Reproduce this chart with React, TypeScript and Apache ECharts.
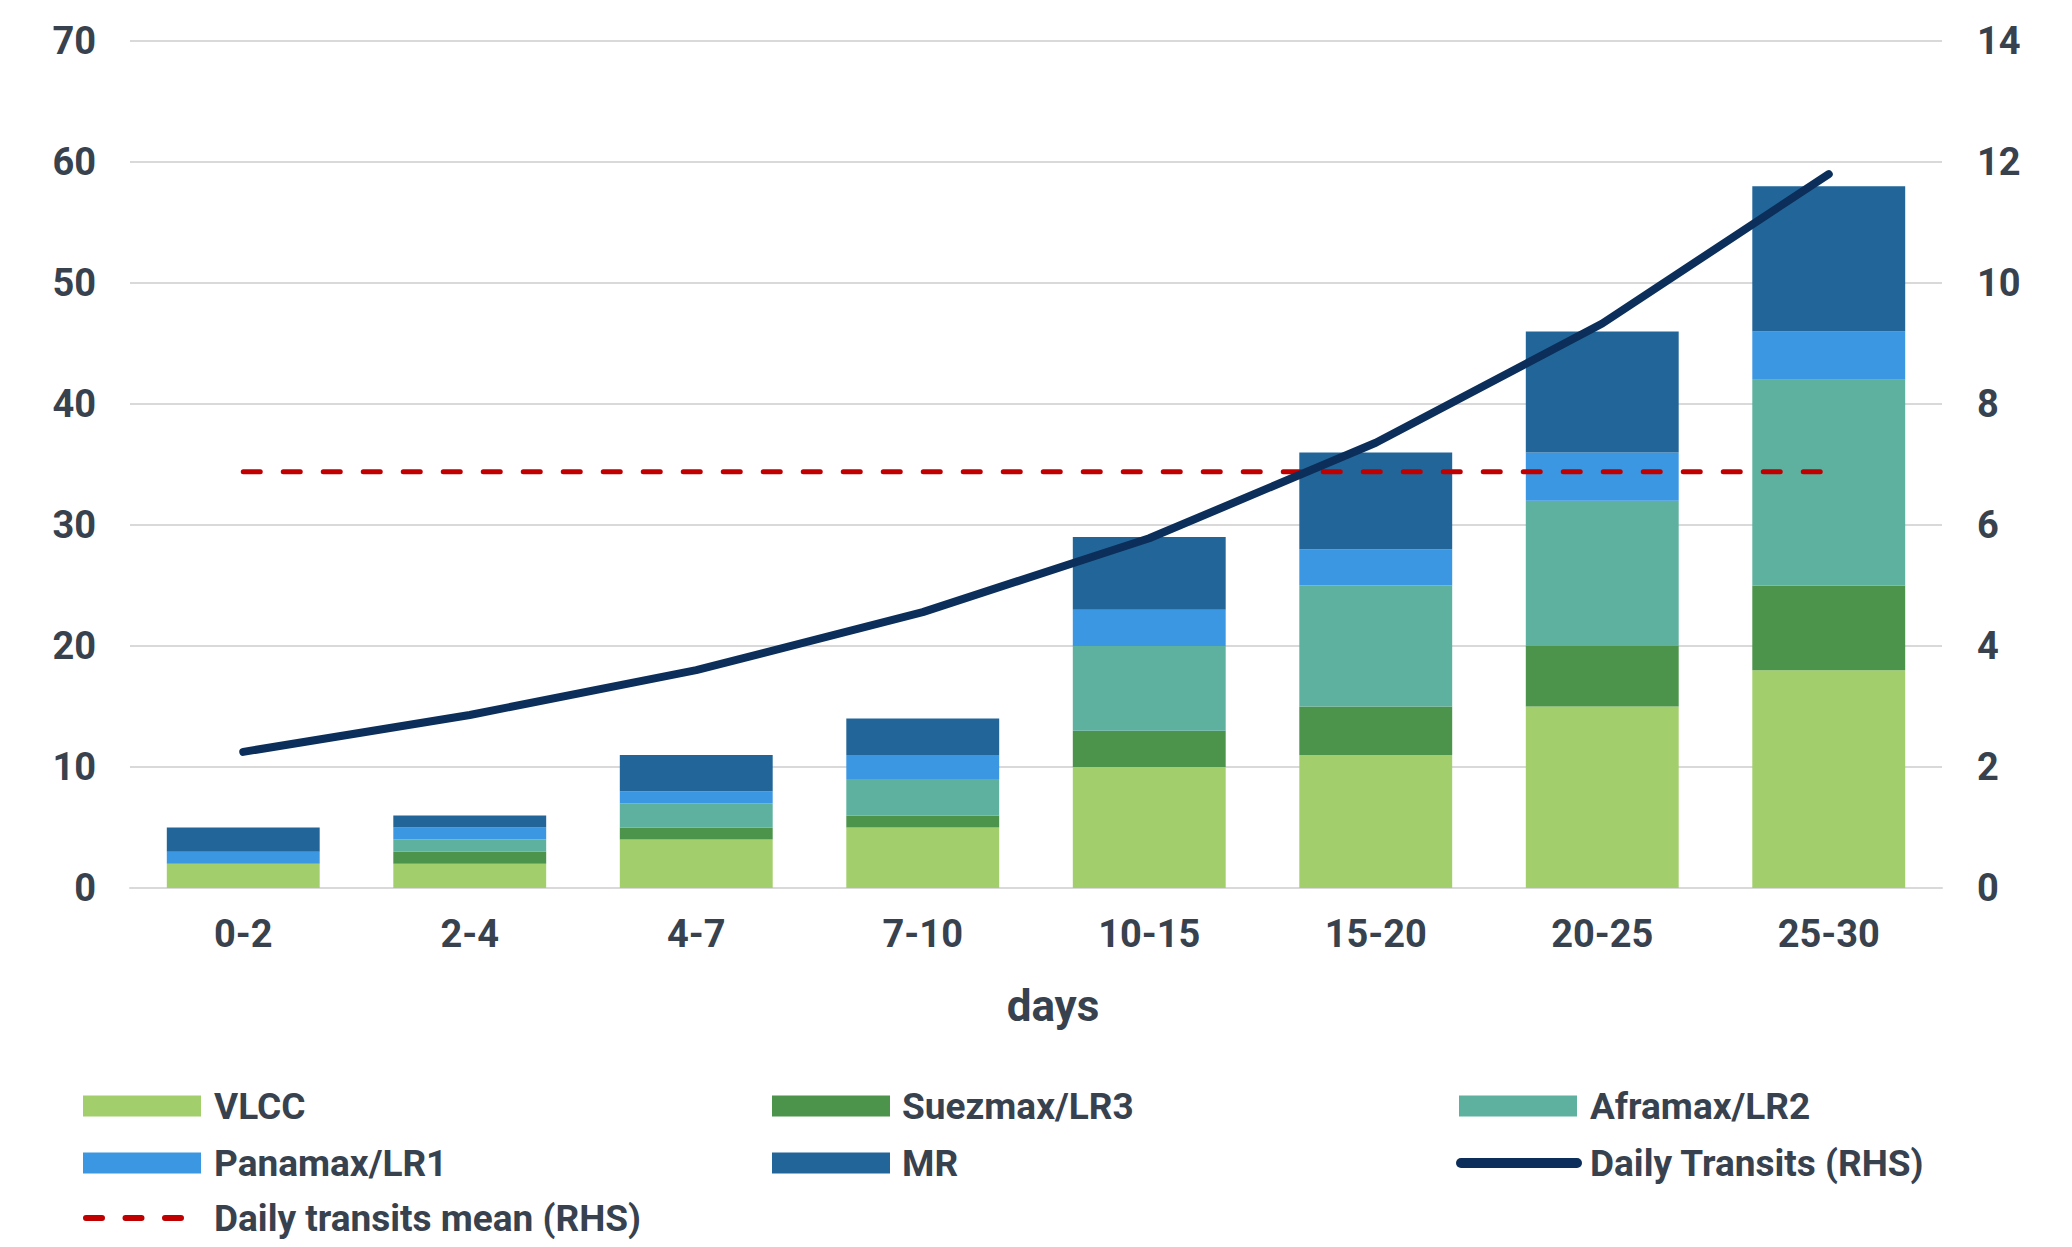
import React, { useEffect, useRef } from "react";
import * as echarts from "echarts";

const categories = ["0-2", "2-4", "4-7", "7-10", "10-15", "15-20", "20-25", "25-30"];
const vlcc = [2, 2, 4, 5, 10, 11, 15, 18];
const suezmax = [0, 1, 1, 1, 3, 4, 5, 7];
const aframax = [0, 1, 2, 3, 7, 10, 12, 17];
const panamax = [1, 1, 1, 2, 3, 3, 4, 4];
const mr = [2, 1, 3, 3, 6, 8, 10, 12];
const dailyTransits = [2.25, 2.86, 3.6, 4.56, 5.78, 7.36, 9.33, 11.8];
const dailyMean = [6.88, 6.88, 6.88, 6.88, 6.88, 6.88, 6.88, 6.88];
const leftTicks = { min: 0, max: 70, interval: 10 };
const rightTicks = { min: 0, max: 14, interval: 2 };

const TEXT = "#37424E";
const FONT = "Roboto";

const colors = {
  vlcc: "#A2CE6C",
  suez: "#4C944B",
  afra: "#5EB19F",
  pana: "#3B97E2",
  mr: "#226699",
  line: "#0B2F5A",
  mean: "#C00000",
};

const DASH_ICON =
  "path://M3,0H19A3,3,0,0,1,19,6H3A3,3,0,0,1,3,0Z M42.5,0H58.5A3,3,0,0,1,58.5,6H42.5A3,3,0,0,1,42.5,0Z M82,0H98A3,3,0,0,1,98,6H82A3,3,0,0,1,82,0Z";
const LINE_ICON = "path://M5,0H121A5,5,0,0,1,121,10H5A5,5,0,0,1,5,0Z";

function legendItem(
  name: string,
  left: number,
  centerY: number,
  w: number,
  h: number,
  pad: number,
  icon: string,
  color: string
) {
  return {
    show: true,
    left,
    top: centerY - 20,
    orient: "horizontal",
    itemWidth: w,
    itemHeight: h,
    symbolKeepAspect: false,
    selectedMode: false,
    padding: 0,
    textStyle: {
      fontFamily: FONT,
      fontWeight: "bold",
      fontSize: 37,
      lineHeight: 40,
      color: TEXT,
      padding: [0, 0, 0, pad],
    },
    data: [{ name, icon, itemStyle: { color, borderWidth: 0 } }],
  };
}

export default function App() {
  const ref = useRef<HTMLDivElement>(null);
  useEffect(() => {
    if (!ref.current) return;
    const chart = echarts.init(ref.current, undefined, { renderer: "svg" });
    const barSeries = (name: string, data: number[], color: string) => ({
      name,
      type: "bar",
      stack: "total",
      data,
      barCategoryGap: "32.5%",
      itemStyle: { color },
      emphasis: { disabled: true },
    });
    const row1 = 1106;
    const row2 = 1163;
    const row3 = 1218;
    chart.setOption({
      animation: false,
      backgroundColor: "#FFFFFF",
      textStyle: { fontFamily: FONT },
      grid: { left: 130, right: 130, top: 41, bottom: 1247 - 888, containLabel: false },
      legend: [
        legendItem("VLCC", 83, row1, 118, 21, 8, "rect", colors.vlcc),
        legendItem("Suezmax/LR3", 772, row1, 118, 21, 7, "rect", colors.suez),
        legendItem("Aframax/LR2", 1459, row1, 118, 21, 8, "rect", colors.afra),
        legendItem("Panamax/LR1", 83, row2, 118, 21, 8, "rect", colors.pana),
        legendItem("MR", 772, row2, 118, 21, 7, "rect", colors.mr),
        legendItem("Daily Transits (RHS)", 1456, row2, 126, 10, 3, LINE_ICON, colors.line),
        legendItem("Daily transits mean (RHS)", 83, row3, 101, 6, 25, DASH_ICON, colors.mean),
      ],
      xAxis: {
        type: "category",
        data: categories,
        name: "days",
        nameLocation: "middle",
        nameGap: 96,
        nameTextStyle: {
          fontFamily: FONT,
          fontWeight: "bold",
          fontSize: 44,
          color: TEXT,
          padding: [0, 0, 0, 34],
        },
        axisLine: { show: true, lineStyle: { color: "#D9D9D9", width: 2 } },
        axisTick: { show: false },
        axisLabel: {
          margin: 27,
          fontFamily: FONT,
          fontWeight: "bold",
          fontSize: 38,
          color: TEXT,
        },
      },
      yAxis: [
        {
          type: "value",
          min: leftTicks.min,
          max: leftTicks.max,
          interval: leftTicks.interval,
          axisLine: { show: false },
          axisTick: { show: false },
          splitLine: { show: true, lineStyle: { color: "#D9D9D9", width: 2 } },
          axisLabel: { margin: 34, fontFamily: FONT, fontWeight: "bold", fontSize: 38, color: TEXT },
        },
        {
          type: "value",
          position: "right",
          min: rightTicks.min,
          max: rightTicks.max,
          interval: rightTicks.interval,
          axisLine: { show: false },
          axisTick: { show: false },
          splitLine: { show: false },
          axisLabel: { margin: 35, fontFamily: FONT, fontWeight: "bold", fontSize: 38, color: TEXT },
        },
      ],
      series: [
        barSeries("VLCC", vlcc, colors.vlcc),
        barSeries("Suezmax/LR3", suezmax, colors.suez),
        barSeries("Aframax/LR2", aframax, colors.afra),
        barSeries("Panamax/LR1", panamax, colors.pana),
        barSeries("MR", mr, colors.mr),
        {
          name: "Daily Transits (RHS)",
          type: "line",
          yAxisIndex: 1,
          data: dailyTransits,
          showSymbol: false,
          symbol: "none",
          smooth: false,
          color: colors.line,
          lineStyle: { color: colors.line, width: 8, cap: "round", join: "round" },
          emphasis: { disabled: true },
          z: 5,
        },
        {
          name: "Daily transits mean (RHS)",
          type: "line",
          yAxisIndex: 1,
          data: dailyMean,
          showSymbol: false,
          symbol: "none",
          color: colors.mean,
          lineStyle: { color: colors.mean, width: 5, type: [17, 23], cap: "round" },
          emphasis: { disabled: true },
          z: 4,
        },
      ],
    });
    return () => chart.dispose();
  }, []);
  return (
    <div
      ref={ref}
      style={{ position: "fixed", left: 0, top: 0, width: 2072, height: 1247, background: "#fff" }}
    />
  );
}
